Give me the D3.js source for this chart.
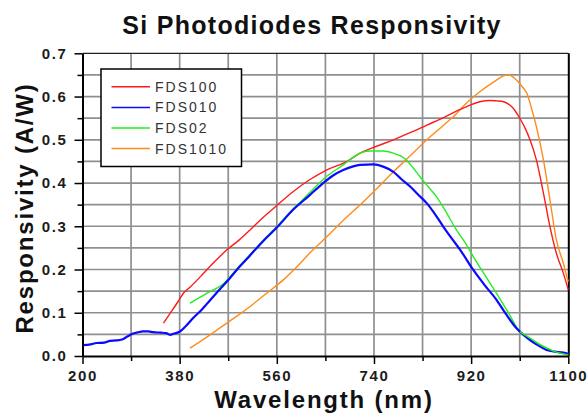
<!DOCTYPE html>
<html><head><meta charset="utf-8">
<script src="https://d3js.org/d3.v7.min.js"></script>
<style>
html,body{margin:0;padding:0;background:#fff;}
svg{display:block;font-family:"Liberation Sans",Arial,sans-serif;}
</style></head>
<body><svg id="c" width="587" height="414"></svg>
<script>
const titleText = "Si Photodiodes Responsivity";
const xLabel = "Wavelength (nm)";
const yLabel = "Responsivity (A/W)";
const xTicks = [200, 380, 560, 740, 920, 1100];
const xMinor = [290, 470, 650, 830, 1010];
const yTicks = [0, 0.1, 0.2, 0.3, 0.4, 0.5, 0.6, 0.7];
const yMinor = [0.05, 0.15, 0.25, 0.35, 0.45, 0.55, 0.65];
const seriesNames = ["FDS100", "FDS010", "FDS02", "FDS1010"];
const seriesColors = ["#ff1a1a", "#0a0aff", "#22ee22", "#ff8c1a"];

const fds100 = [[350,0.076],[362,0.098],[375,0.122],[387,0.145],[400,0.160],[418,0.183],[440,0.212],[467,0.245],[490,0.268],[510,0.291],[529,0.314],[560,0.348],[590,0.380],[620,0.407],[652,0.430],[690,0.450],[714,0.469],[745,0.485],[776,0.500],[808,0.517],[838,0.534],[870,0.552],[905,0.573],[936,0.588],[955,0.591],[967,0.590],[980,0.588],[990,0.582],[998,0.573],[1010,0.550],[1020,0.527],[1029,0.500],[1041,0.453],[1054,0.376],[1066,0.299],[1078,0.237],[1091,0.191],[1100,0.153]];
const fds010 = [[200,0.025],[215,0.027],[226,0.030],[240,0.031],[251,0.035],[262,0.036],[273,0.038],[283,0.045],[294,0.052],[303,0.055],[312,0.057],[322,0.057],[331,0.055],[345,0.054],[355,0.053],[362,0.049],[370,0.052],[380,0.056],[392,0.070],[405,0.088],[420,0.106],[430,0.120],[449,0.147],[473,0.180],[490,0.205],[510,0.232],[538,0.270],[560,0.297],[590,0.338],[620,0.371],[646,0.400],[665,0.418],[683,0.430],[700,0.438],[714,0.442],[739,0.443],[757,0.438],[776,0.426],[790,0.410],[807,0.392],[822,0.373],[838,0.353],[852,0.330],[868,0.300],[884,0.272],[900,0.245],[924,0.199],[945,0.164],[967,0.130],[985,0.096],[1004,0.064],[1017,0.049],[1029,0.037],[1045,0.024],[1060,0.014],[1075,0.010],[1091,0.008],[1100,0.005]];
const fds02 = [[399,0.122],[418,0.136],[436,0.149],[449,0.157],[460,0.166],[473,0.183],[490,0.207],[510,0.234],[538,0.272],[560,0.299],[590,0.340],[605,0.358],[621,0.378],[652,0.415],[683,0.442],[700,0.458],[714,0.469],[733,0.474],[757,0.474],[776,0.469],[790,0.462],[800,0.453],[812,0.436],[825,0.415],[840,0.392],[856,0.368],[875,0.330],[893,0.291],[910,0.260],[924,0.230],[945,0.188],[967,0.145],[990,0.098],[1010,0.056],[1029,0.041],[1045,0.028],[1060,0.018],[1075,0.010],[1091,0.005],[1100,0.003]];
const fds1010 = [[399,0.018],[420,0.035],[449,0.060],[480,0.087],[510,0.114],[540,0.144],[572,0.176],[600,0.210],[621,0.238],[652,0.275],[680,0.310],[714,0.349],[745,0.387],[776,0.426],[808,0.464],[838,0.500],[870,0.535],[893,0.561],[905,0.577],[936,0.611],[967,0.638],[980,0.648],[989,0.650],[997,0.646],[1004,0.638],[1015,0.622],[1023,0.608],[1032,0.572],[1041,0.530],[1054,0.453],[1066,0.361],[1078,0.268],[1091,0.214],[1097,0.185],[1100,0.172]];
const seriesData = [fds100, fds010, fds02, fds1010];
const seriesWidths = [1.4, 2.2, 1.4, 1.4];

const svg = d3.select("#c");
const x = d3.scaleLinear().domain([200, 1100]).range([82.5, 568.3]);
const y = d3.scaleLinear().domain([0, 0.7]).range([356, 53.3]);

// grid
const grid = svg.append("g");
grid.selectAll("line.v").data(xMinor.concat(xTicks.slice(1, -1))).join("line")
  .attr("x1", d => x(d)).attr("x2", d => x(d)).attr("y1", y(0)).attr("y2", y(0.7))
  .attr("stroke", "#8f8f8f").attr("stroke-width", 1.7);
grid.selectAll("line.h").data(yMinor.concat(yTicks.slice(1, -1))).join("line")
  .attr("y1", d => y(d)).attr("y2", d => y(d)).attr("x1", x(200)).attr("x2", x(1100))
  .attr("stroke", "#8f8f8f").attr("stroke-width", 1.7);

// frame
svg.append("line").attr("x1", x(200)).attr("x2", x(1100)).attr("y1", y(0.7)).attr("y2", y(0.7)).attr("stroke", "#222").attr("stroke-width", 1.2);
svg.append("line").attr("x1", x(1100)+0.5).attr("x2", x(1100)+0.5).attr("y1", y(0.7)).attr("y2", y(0)).attr("stroke", "#000").attr("stroke-width", 2);

// curves
const line = d3.line().x(d => x(d[0])).y(d => y(d[1])).curve(d3.curveMonotoneX);
const order = [3, 0, 2, 1];
order.forEach(i => {
  svg.append("path").datum(seriesData[i]).attr("d", line)
    .attr("fill", "none").attr("stroke", seriesColors[i]).attr("stroke-width", seriesWidths[i])
    .attr("stroke-linejoin", "round");
});
// green overlaps blue at the tail: draw green tail on top
svg.append("path").datum(fds02.filter(d => d[0] >= 1004)).attr("d", line)
  .attr("fill", "none").attr("stroke", seriesColors[2]).attr("stroke-width", 1.4);

// axes
const tickStyle = g => {
  g.select(".domain").attr("stroke", "#000").attr("stroke-width", 2);
  g.selectAll(".tick line").attr("stroke", "#000").attr("stroke-width", 1.5);
  g.selectAll(".tick text").attr("fill", "#1c1c1c").style("font-size", "15px").style("font-weight", "bold").style("letter-spacing", "1.6px");
};
const yAxisMinor = svg.append("g").attr("transform", `translate(${x(200)},0)`)
  .call(d3.axisLeft(y).tickValues(yMinor).tickSize(5).tickFormat(""));
yAxisMinor.select(".domain").remove();
yAxisMinor.selectAll(".tick line").attr("stroke", "#000").attr("stroke-width", 1.5);
const xAxisMinor = svg.append("g").attr("transform", `translate(0,${y(0)})`)
  .call(d3.axisBottom(x).tickValues(xMinor).tickSize(5).tickFormat(""));
xAxisMinor.select(".domain").remove();
xAxisMinor.selectAll(".tick line").attr("stroke", "#000").attr("stroke-width", 1.5);

const yAxis = svg.append("g").attr("transform", `translate(${x(200)},0)`)
  .call(d3.axisLeft(y).tickValues(yTicks).tickSize(8).tickSizeOuter(0).tickPadding(7).tickFormat(d3.format(".1f")));
tickStyle(yAxis);
const xAxis = svg.append("g").attr("transform", `translate(0,${y(0)})`)
  .call(d3.axisBottom(x).tickValues(xTicks).tickSize(8).tickSizeOuter(0).tickPadding(6).tickFormat(d3.format("d")));
tickStyle(xAxis);

// titles
svg.append("text").attr("x", 312).attr("y", 34).attr("text-anchor", "middle")
  .style("font-size", "25px").style("font-weight", "bold").style("letter-spacing", "1.3px")
  .attr("fill", "#111").text(titleText);
svg.append("text").attr("x", 324).attr("y", 408).attr("text-anchor", "middle")
  .style("font-size", "24px").style("font-weight", "bold").style("letter-spacing", "1.8px")
  .attr("fill", "#111").text(xLabel);
svg.append("text").attr("transform", "translate(33,208) rotate(-90)").attr("text-anchor", "middle")
  .style("font-size", "24px").style("font-weight", "bold").style("letter-spacing", "1.8px")
  .attr("fill", "#111").text(yLabel);

// legend
const lg = svg.append("g");
lg.append("rect").attr("x", 101).attr("y", 69).attr("width", 140.5).attr("height", 97.5)
  .attr("fill", "#fff").attr("stroke", "#000").attr("stroke-width", 1.5);
const rowsY = [86.7, 107.4, 128.1, 148.6];
seriesNames.forEach((n, i) => {
  lg.append("line").attr("x1", 111.5).attr("x2", 150).attr("y1", rowsY[i]).attr("y2", rowsY[i])
    .attr("stroke", seriesColors[i]).attr("stroke-width", 1.5);
  lg.append("text").attr("x", 155).attr("y", rowsY[i]).attr("dy", "0.36em")
    .style("font-size", "14px").style("letter-spacing", "2px").attr("fill", "#333").text(n);
});
</script></body></html>
